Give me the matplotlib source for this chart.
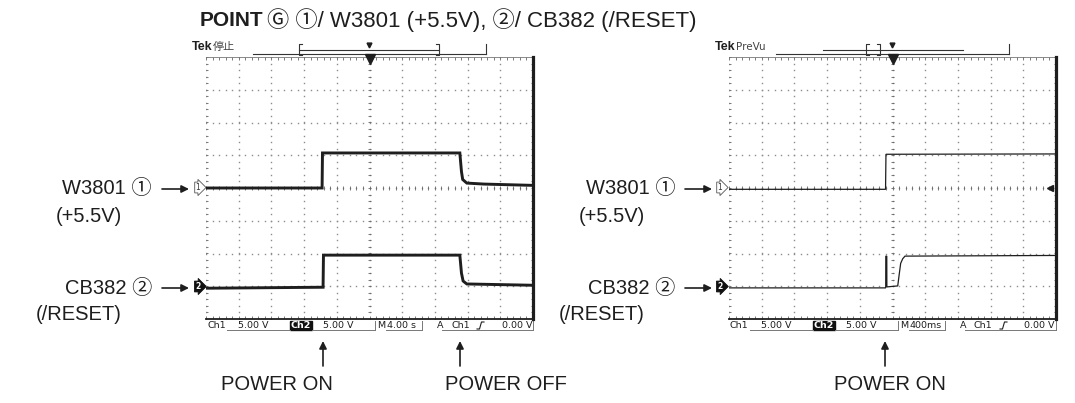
import numpy as np
import matplotlib
matplotlib.use('Agg')
import matplotlib.pyplot as plt

plt.rcParams['font.family'] = ['Liberation Sans', 'Noto Sans CJK JP', 'DejaVu Sans']

# scope settings: volts/div, seconds/div, channel ground positions (div)
volts_per_div = 5.0
ch1_pos, ch2_pos = 0.0, -3.0
sec_per_div_L = 4.0   # M 4.00 s
sec_per_div_R = 0.4   # M 400ms

# left scope (power on / power off), time in s, trigger at centre
ch1_t_L = [-20, -5.8, -5.75, 11.05, 11.25, 11.4, 11.9, 14.0, 20]
ch1_v_L = [0.0, 0.0, 5.35, 5.35, 2.5, 1.3, 0.75, 0.6, 0.4]
ch2_t_L = [-20, -5.68, -5.63, 11.05, 11.25, 11.45, 11.9, 20]
ch2_v_L = [-0.3, -0.15, 4.75, 4.75, 2.0, 0.8, 0.35, 0.15]

# right scope (power on zoomed)
ch1_t_R = [-2.0, -0.085, -0.08, 2.0]
ch1_v_R = [-0.2, -0.2, 5.15, 5.2]
ch2_t_R = [-2.0, -0.083, -0.082, -0.07, -0.069, 0.064, 0.083, 0.100, 0.125, 0.153, 2.0]
ch2_v_R = [-0.25, -0.25, 4.6, 4.6, -0.1, 0.05, 1.9, 3.5, 4.2, 4.6, 4.7]

W, H = 1075, 403
fig = plt.figure(figsize=(W / 100, H / 100), dpi=100)
ov = fig.add_axes([0, 0, 1, 1])
ov.set_xlim(0, W)
ov.set_ylim(H, 0)
ov.axis('off')

grid_c = '#8c8c8c'
ink = '#1e1e1e'


def scope(x0, x1, y0, y1):
    ax = fig.add_axes([x0 / W, 1 - y1 / H, (x1 - x0) / W, (y1 - y0) / H])
    ax.set_xlim(0, 10)
    ax.set_ylim(-4, 4)
    ax.axis('off')
    ax.patch.set_alpha(0)
    minor_x = np.arange(0, 10.01, 0.2)
    minor_y = np.arange(-4, 4.01, 0.2)
    # dotted graticule
    for gx in range(0, 10):
        ax.plot(np.full_like(minor_y, gx), minor_y, ls='none', marker='s',
                ms=1.0, mew=0, color=grid_c)
    for gy in range(-3, 4):
        ax.plot(minor_x, np.full_like(minor_x, gy), ls='none', marker='s',
                ms=1.0, mew=0, color=grid_c)
    # centre crosshair ticks
    ax.hlines(minor_y, 5 - 0.06, 5 + 0.06, color='#666', lw=0.6)
    ax.vlines(minor_x, -0.07, 0.07, color='#666', lw=0.6)
    # edge ticks
    ax.vlines(minor_x, -4, -3.92, color='#666', lw=0.6)
    ax.vlines(minor_x, 3.92, 4, color='#666', lw=0.6)
    ax.hlines(minor_y, 0, 0.06, color='#666', lw=0.6)
    ax.hlines(minor_y, 9.94, 10, color='#666', lw=0.6)
    # borders
    ax.plot([0, 10], [4, 4], color='#777', lw=0.6, clip_on=False)
    ax.plot([0, 10], [-4, -4], color=ink, lw=1.3, clip_on=False)
    ax.plot([10, 10], [-4, 4], color=ink, lw=2.3, clip_on=False)
    ax.plot(5, 3.93, marker='v', ms=7, color=ink, clip_on=False)
    return ax


def trace(ax, t, v, spd, pos, lw):
    x = (np.array(t) + 5 * spd) / spd
    y = np.array(v) / volts_per_div + pos
    ax.plot(x, y, color=ink, lw=lw, solid_joinstyle='miter')


axL = scope(206, 533, 57, 319)
axR = scope(729, 1056, 57, 319)
trace(axL, ch1_t_L, ch1_v_L, sec_per_div_L, ch1_pos, 2.1)
trace(axL, ch2_t_L, ch2_v_L, sec_per_div_L, ch2_pos, 2.1)
trace(axR, ch1_t_R, ch1_v_R, sec_per_div_R, ch1_pos, 0.9)
trace(axR, ch2_t_R, ch2_v_R, sec_per_div_R, ch2_pos, 0.9)
axR.plot(9.82, 0, marker='<', ms=5, color=ink, clip_on=False)

# title
ov.text(200, 20, 'POINT', fontsize=15, fontweight='bold', va='center', color=ink)
ov.text(267, 20, 'Ⓖ ①/ W3801 (+5.5V), ②/ CB382 (/RESET)', fontsize=16,
        va='center', color=ink)


def header(x0, name, nsize, bar, brackets):
    ov.text(x0 - 14, 47, 'Tek', fontsize=9, fontweight='bold', va='center', color=ink)
    ov.text(x0 + 7, 47, name, fontsize=nsize, va='center', color='#444',
            family=['DejaVu Sans', 'Noto Sans CJK JP'])
    ov.plot([x0 + 47, x0 + 280], [54, 54], color='#333', lw=0.8)
    ov.plot([x0 + 280, x0 + 280], [44, 54], color='#333', lw=0.8)
    ov.plot(bar, [50, 50], color='#333', lw=0.8)
    for bx, d in zip(brackets, (1, -1)):
        ov.plot([bx + 3 * d, bx, bx, bx + 3 * d], [44, 44, 55, 55], color='#333', lw=0.8)
    ov.plot(x0 + 163, 45, marker='v', ms=3.5, color=ink)


header(206, '停止', 8, [299, 439], [299, 439])
header(729, 'PreVu', 7.5, [823, 963], [866, 880])


def status(x0, tdiv):
    y = 325.5
    kw = dict(fontsize=6.8, va='center', color=ink, family=['DejaVu Sans'])
    ov.text(x0 + 1, y, 'Ch1', **kw)
    ov.text(x0 + 32, y, '5.00 V', **kw)
    ov.add_patch(plt.Rectangle((x0 + 84, 320.5), 22, 9.5, color='#111'))
    ov.text(x0 + 95, y, 'Ch2', ha='center', fontsize=6.8, va='center',
            color='white', fontweight='bold', family=['DejaVu Sans'])
    ov.text(x0 + 117, y, '5.00 V', **kw)
    ov.text(x0 + 171, y, 'M', **kw)
    ov.text(x0 + 181, y, tdiv, **kw)
    ov.text(x0 + 231, y, 'A', **kw)
    ov.text(x0 + 245, y, 'Ch1', **kw)
    ov.plot([x0 + 271, x0 + 273.5, x0 + 275.5, x0 + 278],
            [329, 329, 322, 322], color=ink, lw=0.8)
    ov.text(x0 + 326, y, '0.00 V', ha='right', **kw)
    for a, b in ((21, 84), (106, 169), (180, 216), (236, 327)):
        ov.plot([x0 + a, x0 + b], [329.5, 329.5], color='#777', lw=0.7)
    for a in (169, 216, 327):
        ov.plot([x0 + a, x0 + a], [321, 329.5], color='#777', lw=0.7)


status(206, '4.00 s')
status(729, '400ms')


def labels(xr, xarrow, xmark):
    fs = 14.5
    ov.text(xr, 189, 'W3801 ①', fontsize=fs, ha='right', va='center', color=ink)
    ov.text(xr - 30, 217, '(+5.5V)', fontsize=fs, ha='right', va='center', color=ink)
    ov.text(xr, 288, 'CB382 ②', fontsize=fs, ha='right', va='center', color=ink)
    ov.text(xr - 30, 314, '(/RESET)', fontsize=fs, ha='right', va='center', color=ink)
    for yy in (189, 288):
        ov.annotate('', xy=(xarrow + 27, yy), xytext=(xarrow, yy),
                    arrowprops=dict(arrowstyle='-|>', color=ink, lw=1.2,
                                    mutation_scale=11, shrinkA=0, shrinkB=0))
    ov.text(xmark, 187.5, '1', fontsize=5.5, ha='center', va='center', color='#333',
            family=['DejaVu Sans'],
            bbox=dict(boxstyle='rarrow,pad=0.12', fc='white', ec='#555', lw=0.6))
    ov.text(xmark, 286.5, '2', fontsize=5.5, ha='center', va='center', color='white',
            fontweight='bold', family=['DejaVu Sans'],
            bbox=dict(boxstyle='rarrow,pad=0.12', fc='#111', ec='#111', lw=0.6))


labels(152, 162, 198)
labels(675, 685, 720)


def power(xa, xt, txt):
    ov.annotate('', xy=(xa, 341), xytext=(xa, 366),
                arrowprops=dict(arrowstyle='-|>', color=ink, lw=1.2,
                                mutation_scale=11, shrinkA=0, shrinkB=0))
    ov.text(xt, 385, txt, fontsize=14.5, ha='center', va='center', color=ink)


power(323, 277, 'POWER ON')
power(460, 506, 'POWER OFF')
power(885, 890, 'POWER ON')

fig.savefig('out.png', dpi=100)
